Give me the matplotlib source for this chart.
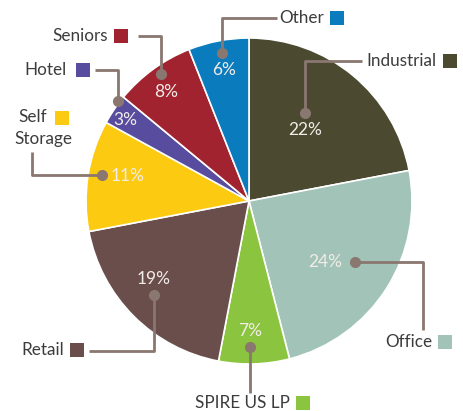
import matplotlib.pyplot as plt

# portfolio split, clockwise from 12 o'clock
sectors = ['Industrial', 'Office', 'SPIRE US LP', 'Retail', 'Self\nStorage', 'Hotel', 'Seniors', 'Other']
shares = [22, 24, 7, 19, 11, 3, 8, 6]
colors = ['#4b4a31', '#a2c3b7', '#8bc53f', '#694e4c', '#fdca12', '#584c9f', '#a1232f', '#0a7bbd']

W, H = 463, 411
line_col = '#8a7770'
text_col = '#3c3c3c'

def Y(y):
    # pixel rows measured from the top
    return H - y

fig = plt.figure(figsize=(W / 100, H / 100), dpi=100)
ax = fig.add_axes([0, 0, 1, 1])

cx, cy, r = 249, Y(201), 163
wedges, _ = ax.pie(shares, colors=colors, startangle=90, counterclock=False,
                   center=(cx, cy), radius=r, frame=True,
                   wedgeprops=dict(edgecolor='white', linewidth=1.2))
ax.set_xlim(0, W)
ax.set_ylim(0, H)
ax.set_aspect('equal')
ax.axis('off')

font = ['Lato', 'DejaVu Sans']
fs = 12.3

# leader lines: path points (pixel coords), label text, text anchor (right edge), swatch position
leaders = [
    ([(305, 113), (305, 61), (362, 61)], 'Industrial', (437, 61), (450, 61)),
    ([(355, 262), (423, 262), (423, 330)], 'Office', (432, 342), (445, 342)),
    ([(250, 347), (250, 393)], 'SPIRE US LP', (290, 403), (303, 403)),
    ([(154, 295), (154, 351), (89, 351)], 'Retail', (64, 350), (77, 350)),
    ([(102, 175), (32, 175), (32, 152)], 'Self\nStorage', (47, 117), (62, 118)),
    ([(118, 101), (118, 70), (95, 70)], 'Hotel', (67, 70), (83, 70)),
    ([(161, 74), (161, 36), (138, 36)], 'Seniors', (108, 36), (121, 36)),
    ([(222, 53), (222, 18), (277, 18)], 'Other', (324, 18), (337, 18)),
]

for (pts, name, tpos, sw), col in zip(leaders, colors):
    xs = [p[0] for p in pts]
    ys = [Y(p[1]) for p in pts]
    ax.plot(xs, ys, color=line_col, lw=2, solid_capstyle='butt', zorder=3)
    ax.plot(xs[0], ys[0], 'o', color=line_col, ms=7, zorder=4)
    if name == 'Self\nStorage':
        ax.text(47, Y(117), 'Self', ha='right', va='center', fontsize=fs,
                color=text_col, family=font)
        ax.text(72, Y(139), 'Storage', ha='right', va='center', fontsize=fs,
                color=text_col, family=font)
    else:
        ax.text(tpos[0], Y(tpos[1]), name, ha='right', va='center', fontsize=fs,
                color=text_col, family=font)
    ax.add_patch(plt.Rectangle((sw[0] - 7, Y(sw[1]) - 7), 14, 14, color=col, lw=0))

# percentage labels inside the slices
pct_pos = [(305, 130), (325, 262), (250, 331), (154, 279), (128, 176), (125, 120), (166, 92), (224, 70)]
for (x, y), v in zip(pct_pos, shares):
    ax.text(x, Y(y), f'{v}%', ha='center', va='center', fontsize=12.5,
            color='#f2ece8', family=font, zorder=5)

fig.savefig('out.png', dpi=100, facecolor='white')
